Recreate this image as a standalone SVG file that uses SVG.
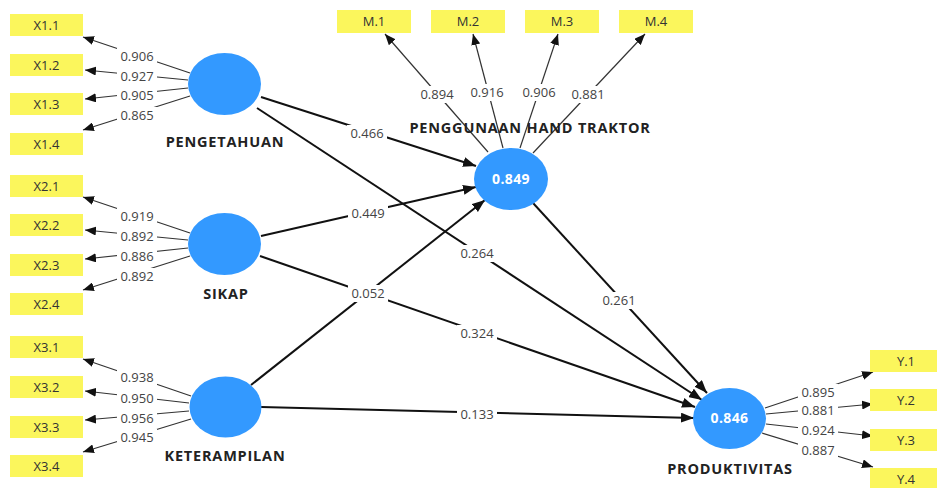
<svg xmlns="http://www.w3.org/2000/svg" width="937" height="488" viewBox="0 0 937 488">
<style>
.box{fill:#fbf65c}
.bt{font-family:"Open Sans","Liberation Sans",sans-serif;font-size:13px;fill:#333;text-anchor:middle}
.lv{fill:#3399ff}
.nm{font-family:"Open Sans","Liberation Sans",sans-serif;font-size:14.5px;font-weight:bold;fill:#222;text-anchor:middle;letter-spacing:0.8px}
.r2{font-family:"Open Sans","Liberation Sans",sans-serif;font-size:14px;font-weight:bold;fill:#fff;text-anchor:middle;letter-spacing:0.4px}
.ld{stroke:#333;stroke-width:1.2;fill:none;marker-end:url(#a1)}
.st{stroke:#111;stroke-width:2;fill:none;marker-end:url(#a2)}
.bg{fill:#fff}
.lb{font-family:"Open Sans","Liberation Sans",sans-serif;font-size:13px;fill:#444;text-anchor:middle}
</style>
<defs>
<marker id="a1" markerUnits="userSpaceOnUse" markerWidth="11" markerHeight="9" refX="11" refY="4.5" orient="auto"><path d="M0,0 L11,4.5 L0,9 z" fill="#111"/></marker>
<marker id="a2" markerUnits="userSpaceOnUse" markerWidth="13" markerHeight="10" refX="13" refY="5" orient="auto"><path d="M0,0 L13,5 L0,10 z" fill="#111"/></marker>
<rect id="lbg" class="bg" x="-20" y="-13" width="40" height="17"/>
</defs>
<g id="connectors">
<line class="ld" x1="190" y1="73" x2="83" y2="37"/>
<line class="ld" x1="188" y1="80" x2="85" y2="70"/>
<line class="ld" x1="188" y1="88" x2="85" y2="99"/>
<line class="ld" x1="190" y1="96" x2="83" y2="130"/>
<line class="ld" x1="190" y1="233" x2="83" y2="197"/>
<line class="ld" x1="188" y1="240" x2="85" y2="230"/>
<line class="ld" x1="188" y1="248" x2="85" y2="259"/>
<line class="ld" x1="190" y1="256" x2="83" y2="290"/>
<line class="ld" x1="191" y1="396" x2="83" y2="359"/>
<line class="ld" x1="189" y1="403" x2="85" y2="391"/>
<line class="ld" x1="189" y1="411" x2="85" y2="420"/>
<line class="ld" x1="191" y1="419" x2="83" y2="452"/>
<line class="ld" x1="488" y1="152" x2="385" y2="34"/>
<line class="ld" x1="503" y1="148" x2="473" y2="34"/>
<line class="ld" x1="520" y1="148" x2="558" y2="34"/>
<line class="ld" x1="533" y1="153" x2="645" y2="34"/>
<line class="ld" x1="765" y1="408" x2="873" y2="372"/>
<line class="ld" x1="766" y1="414" x2="873" y2="404"/>
<line class="ld" x1="766" y1="424" x2="873" y2="436"/>
<line class="ld" x1="762" y1="433" x2="873" y2="467"/>
<line class="st" x1="261" y1="97" x2="476" y2="166"/>
<line class="st" x1="257" y1="108" x2="702" y2="400"/>
<line class="st" x1="261" y1="236" x2="476" y2="187"/>
<line class="st" x1="260" y1="256" x2="695" y2="407"/>
<line class="st" x1="251" y1="385" x2="485" y2="200"/>
<line class="st" x1="261" y1="407" x2="694" y2="418"/>
<line class="st" x1="533" y1="203" x2="707" y2="393"/>
<use href="#lbg" x="137" y="61"/><text class="lb" x="137" y="61">0.906</text>
<use href="#lbg" x="137" y="81"/><text class="lb" x="137" y="81">0.927</text>
<use href="#lbg" x="137" y="100"/><text class="lb" x="137" y="100">0.905</text>
<use href="#lbg" x="137" y="120"/><text class="lb" x="137" y="120">0.865</text>
<use href="#lbg" x="137" y="221"/><text class="lb" x="137" y="221">0.919</text>
<use href="#lbg" x="137" y="241"/><text class="lb" x="137" y="241">0.892</text>
<use href="#lbg" x="137" y="261"/><text class="lb" x="137" y="261">0.886</text>
<use href="#lbg" x="137" y="281"/><text class="lb" x="137" y="281">0.892</text>
<use href="#lbg" x="137" y="382"/><text class="lb" x="137" y="382">0.938</text>
<use href="#lbg" x="137" y="403"/><text class="lb" x="137" y="403">0.950</text>
<use href="#lbg" x="137" y="423"/><text class="lb" x="137" y="423">0.956</text>
<use href="#lbg" x="137" y="442"/><text class="lb" x="137" y="442">0.945</text>
<use href="#lbg" x="437" y="99"/><text class="lb" x="437" y="99">0.894</text>
<use href="#lbg" x="487" y="97"/><text class="lb" x="487" y="97">0.916</text>
<use href="#lbg" x="539" y="97"/><text class="lb" x="539" y="97">0.906</text>
<use href="#lbg" x="588" y="99"/><text class="lb" x="588" y="99">0.881</text>
<use href="#lbg" x="818" y="397"/><text class="lb" x="818" y="397">0.895</text>
<use href="#lbg" x="818" y="415"/><text class="lb" x="818" y="415">0.881</text>
<use href="#lbg" x="818" y="435"/><text class="lb" x="818" y="435">0.924</text>
<use href="#lbg" x="818" y="455"/><text class="lb" x="818" y="455">0.887</text>
<use href="#lbg" x="367" y="138"/><text class="lb" x="367" y="138">0.466</text>
<use href="#lbg" x="477" y="258"/><text class="lb" x="477" y="258">0.264</text>
<use href="#lbg" x="368" y="218"/><text class="lb" x="368" y="218">0.449</text>
<use href="#lbg" x="477" y="338"/><text class="lb" x="477" y="338">0.324</text>
<use href="#lbg" x="368" y="298"/><text class="lb" x="368" y="298">0.052</text>
<use href="#lbg" x="477" y="419"/><text class="lb" x="477" y="419">0.133</text>
<use href="#lbg" x="619" y="305"/><text class="lb" x="619" y="305">0.261</text>
</g>
<g id="X1.1"><rect class="box" x="10" y="14" width="73" height="22"/><text class="bt" x="46.5" y="30">X1.1</text></g>
<g id="X1.2"><rect class="box" x="10" y="54" width="73" height="22"/><text class="bt" x="46.5" y="70">X1.2</text></g>
<g id="X1.3"><rect class="box" x="10" y="93" width="73" height="22"/><text class="bt" x="46.5" y="109">X1.3</text></g>
<g id="X1.4"><rect class="box" x="10" y="133" width="73" height="22"/><text class="bt" x="46.5" y="149">X1.4</text></g>
<g id="X2.1"><rect class="box" x="10" y="175" width="73" height="22"/><text class="bt" x="46.5" y="191">X2.1</text></g>
<g id="X2.2"><rect class="box" x="10" y="214" width="73" height="22"/><text class="bt" x="46.5" y="230">X2.2</text></g>
<g id="X2.3"><rect class="box" x="10" y="254" width="73" height="22"/><text class="bt" x="46.5" y="270">X2.3</text></g>
<g id="X2.4"><rect class="box" x="10" y="293" width="73" height="22"/><text class="bt" x="46.5" y="309">X2.4</text></g>
<g id="X3.1"><rect class="box" x="10" y="336" width="73" height="22"/><text class="bt" x="46.5" y="352">X3.1</text></g>
<g id="X3.2"><rect class="box" x="10" y="376" width="73" height="22"/><text class="bt" x="46.5" y="392">X3.2</text></g>
<g id="X3.3"><rect class="box" x="10" y="416" width="73" height="22"/><text class="bt" x="46.5" y="432">X3.3</text></g>
<g id="X3.4"><rect class="box" x="10" y="455" width="73" height="22"/><text class="bt" x="46.5" y="471">X3.4</text></g>
<g id="M.1"><rect class="box" x="337" y="10" width="74" height="23"/><text class="bt" x="374" y="26">M.1</text></g>
<g id="M.2"><rect class="box" x="431" y="10" width="74" height="23"/><text class="bt" x="468" y="26">M.2</text></g>
<g id="M.3"><rect class="box" x="525" y="10" width="74" height="23"/><text class="bt" x="562" y="26">M.3</text></g>
<g id="M.4"><rect class="box" x="619" y="10" width="74" height="23"/><text class="bt" x="656" y="26">M.4</text></g>
<g id="Y.1"><rect class="box" x="870" y="350" width="73" height="22"/><text class="bt" x="906" y="366">Y.1</text></g>
<g id="Y.2"><rect class="box" x="870" y="389" width="73" height="22"/><text class="bt" x="906" y="405">Y.2</text></g>
<g id="Y.3"><rect class="box" x="870" y="429" width="73" height="22"/><text class="bt" x="906" y="445">Y.3</text></g>
<g id="Y.4"><rect class="box" x="870" y="468" width="73" height="22"/><text class="bt" x="906" y="484">Y.4</text></g>
<g id="PENGETAHUAN"><ellipse class="lv" cx="224.5" cy="84" rx="36.5" ry="31"/><text class="nm" x="225" y="147">PENGETAHUAN</text></g>
<g id="SIKAP"><ellipse class="lv" cx="224.5" cy="244" rx="36.5" ry="31"/><text class="nm" x="226" y="299">SIKAP</text></g>
<g id="KETERAMPILAN"><ellipse class="lv" cx="225.5" cy="407" rx="36" ry="30.5"/><text class="nm" x="225" y="461">KETERAMPILAN</text></g>
<g id="PENGGUNAAN_HAND_TRAKTOR"><ellipse class="lv" cx="511" cy="179" rx="37" ry="31"/><text class="r2" x="511" y="184">0.849</text><text class="nm" x="530" y="133">PENGGUNAAN HAND TRAKTOR</text></g>
<g id="PRODUKTIVITAS"><ellipse class="lv" cx="729.5" cy="418.5" rx="36.5" ry="30.5"/><text class="r2" x="729.5" y="423">0.846</text><text class="nm" x="730" y="474">PRODUKTIVITAS</text></g>
</svg>
